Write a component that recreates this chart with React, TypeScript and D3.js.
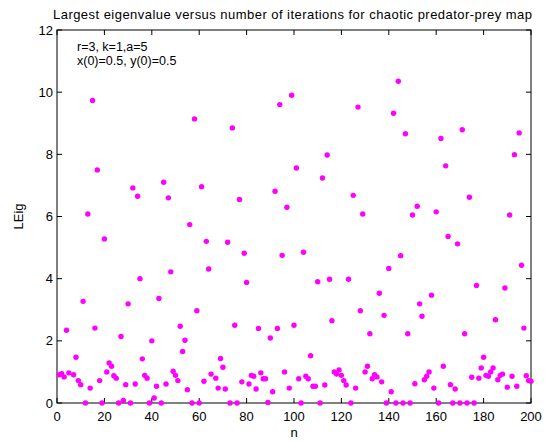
import React from "react";
import * as d3 from "d3";

// Iteration index n and the largest eigenvalue at that iteration
const iterations: number[] = [
  1, 2, 3, 4, 5, 7, 8, 9, 10, 11, 12, 13, 14, 15, 16, 17, 18, 19, 20,
  21, 22, 23, 24, 25, 26, 27, 28, 29, 30, 31, 32, 33, 34, 35, 36, 37, 38, 39, 40,
  41, 42, 43, 44, 45, 46, 47, 48, 49, 50, 51, 52, 53, 54, 55, 56, 57, 58, 59, 60,
  61, 62, 63, 64, 65, 67, 68, 69, 70, 71, 72, 73, 74, 75, 76, 77, 78, 79, 80,
  81, 82, 83, 84, 85, 86, 87, 88, 89, 90, 91, 92, 93, 94, 95, 96, 97, 98, 99, 100,
  101, 102, 103, 104, 105, 106, 107, 108, 109, 110, 111, 112, 113, 114, 115, 116, 117, 118, 119, 120,
  121, 122, 123, 124, 125, 126, 127, 128, 129, 130, 131, 132, 133, 134, 135, 136, 137, 138, 139, 140,
  141, 142, 143, 144, 145, 146, 147, 148, 149, 150, 151, 152, 153, 154, 155, 156, 157, 158, 159, 160,
  161, 162, 163, 164, 165, 166, 167, 168, 169, 170, 171, 172, 173, 174, 175, 176, 177, 178, 179, 180,
  181, 182, 183, 184, 185, 186, 187, 188, 189, 190, 191, 192, 193, 194, 195, 196, 197, 198, 199, 200,
];

const largestEig: number[] = [
  0.91, 0.94, 0.84, 2.34, 0.97, 0.91, 1.47, 0.72, 0.59, 3.27, 0, 6.08, 0.48, 9.73, 2.41, 7.5, 0.72, 0, 5.28,
  1.0, 1.29, 1.18, 0.88, 0.8, 0, 2.14, 0.08, 0.59, 3.19, 0, 6.92, 0.61, 6.65, 4.0, 1.42, 0.89, 0.8, 0, 2.0,
  0.16, 0.54, 3.36, 0, 7.1, 0.61, 6.6, 4.22, 1.02, 0.89, 0.72, 2.47, 1.66, 2.02, 0.43, 5.74, 0, 9.14, 2.97, 0,
  6.96, 0.7, 5.2, 4.31, 0.93, 0.8, 0.48, 1.43, 1.15, 0.45, 5.17, 0, 8.85, 2.5, 0, 6.55, 0.68, 4.82, 3.88,
  0.61, 0.89, 0.86, 0.45, 2.4, 0.97, 0.78, 0.78, 0.02, 2.09, 0.36, 6.81, 2.4, 9.6, 4.75, 1.0, 6.3, 0.48, 9.9, 2.5,
  7.56, 0.78, 0, 4.85, 0.86, 0.78, 1.52, 0.54, 0.54, 3.9, 0, 7.24, 0.58, 7.98, 3.98, 2.65, 1.0, 0.93, 1.06, 0.89,
  0.72, 0.58, 3.98, 0, 6.68, 0.48, 9.52, 2.97, 6.08, 1.0, 1.18, 2.23, 0.78, 0.91, 0.84, 3.53, 0.68, 2.82, 0, 4.33,
  0.36, 9.32, 0, 10.35, 4.74, 0, 8.66, 2.23, 0, 6.05, 0.62, 6.33, 3.19, 2.79, 0.75, 0.86, 1.0, 3.47, 0.48, 6.15,
  0, 8.51, 1.18, 7.63, 5.36, 0.59, 0, 0.45, 5.12, 0, 8.79, 2.23, 0, 6.62, 0.83, 0, 3.78, 0.8, 1.13, 1.47,
  0.89, 0.86, 1.0, 1.13, 2.68, 0.75, 0.89, 0.93, 3.7, 0.51, 6.05, 0.86, 7.99, 0.54, 8.69, 4.43, 2.41, 0.88, 0.72, 0.7,
];

const xTicks: number[] = [0, 20, 40, 60, 80, 100, 120, 140, 160, 180, 200];
const yTicks: number[] = [0, 2, 4, 6, 8, 10, 12];

const titleText = "Largest eigenvalue versus number of iterations for chaotic predator-prey map";
const noteLines: string[] = ["r=3, k=1,a=5", "x(0)=0.5, y(0)=0.5"];

const W = 549;
const H = 441;
const left = 57;
const right = 531;
const top = 30;
const bottom = 403;
const tickLen = 5;
const font = "'Liberation Sans', Arial, Helvetica, sans-serif";

export default function App() {
  const x = d3.scaleLinear().domain([0, 200]).range([left, right]);
  const y = d3.scaleLinear().domain([0, 12]).range([bottom, top]);

  return (
    <svg
      width={W}
      height={H}
      style={{ position: "fixed", left: 0, top: 0, background: "#fff" }}
      fontFamily={font}
    >
      <rect x={0} y={0} width={W} height={H} fill="#fff" />
      <text
        x={53}
        y={19}
        fontSize={13}
        textLength={479}
        lengthAdjust="spacing"
        fill="#000"
      >
        {titleText}
      </text>

      {/* inward ticks on all four sides */}
      {xTicks.map((t) => (
        <g key={"xt" + t}>
          <line x1={x(t)} x2={x(t)} y1={bottom} y2={bottom - tickLen} stroke="#000" />
          <line x1={x(t)} x2={x(t)} y1={top} y2={top + tickLen} stroke="#000" />
          <text x={x(t)} y={421} fontSize={13} textAnchor="middle" fill="#000">
            {t}
          </text>
        </g>
      ))}
      {yTicks.map((t) => (
        <g key={"yt" + t}>
          <line x1={left} x2={left + tickLen} y1={y(t)} y2={y(t)} stroke="#000" />
          <line x1={right} x2={right - tickLen} y1={y(t)} y2={y(t)} stroke="#000" />
          <text x={left - 4} y={y(t) + 4.5} fontSize={13} textAnchor="end" fill="#000">
            {t}
          </text>
        </g>
      ))}
      <rect x={left} y={top} width={right - left} height={bottom - top} fill="none" stroke="#000" />

      {noteLines.map((s, i) => (
        <text key={s} x={77} y={50.5 + i * 14} fontSize={12.5} fill="#000">
          {s}
        </text>
      ))}

      {iterations.map((n, i) => (
        <circle key={n} cx={x(n)} cy={y(largestEig[i])} r={2.7} fill="#ff00ff" />
      ))}

      <text x={(left + right) / 2} y={437} fontSize={13} textAnchor="middle" fill="#000">
        n
      </text>
      <text
        transform={`translate(23, ${(top + bottom) / 2}) rotate(-90)`}
        fontSize={13}
        textAnchor="middle"
        fill="#000"
      >
        LEig
      </text>
    </svg>
  );
}
